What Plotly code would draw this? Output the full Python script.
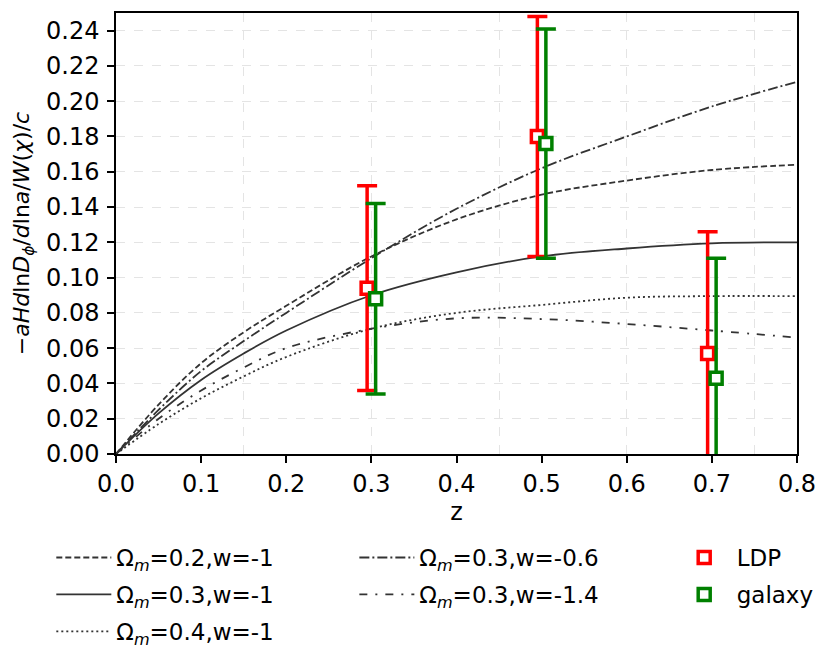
import plotly.graph_objects as go

# redshift grid for the model curves
z = [0, 0.05, 0.1, 0.15, 0.2, 0.3, 0.4, 0.5, 0.6, 0.7, 0.8]

om02_w1 = [0, 0.028, 0.0515, 0.069, 0.084, 0.112, 0.133, 0.147, 0.155, 0.161, 0.164]
om03_w1 = [0, 0.023, 0.042, 0.057, 0.070, 0.090, 0.103, 0.112, 0.1165, 0.1194, 0.120]
om04_w1 = [0, 0.017, 0.0316, 0.044, 0.055, 0.071, 0.080, 0.0845, 0.0886, 0.0895, 0.0895]
om03_w06 = [0, 0.025, 0.047, 0.064, 0.080, 0.111, 0.139, 0.162, 0.180, 0.197, 0.211]
om03_w14 = [0, 0.020, 0.036, 0.049, 0.060, 0.071, 0.0769, 0.0765, 0.0737, 0.070, 0.066]

# measurements
ldp_z = [0.295, 0.495, 0.695]
ldp_val = [0.094, 0.180, 0.057]
ldp_err = [0.058, 0.068, 0.069]

gal_z = [0.305, 0.505, 0.705]
gal_val = [0.088, 0.176, 0.043]
gal_err = [0.054, 0.065, 0.068]

FONT = "DejaVu Sans"
LINE = "#333333"

fig = go.Figure()

def curve(y, name, dash, legend):
    fig.add_trace(go.Scatter(
        x=z, y=y, name=name, mode="lines", line_shape="spline",
        line=dict(color=LINE, width=1.8, dash=dash),
        legend=legend, legendgroup=name))

curve(om02_w1, "Ω<sub><i>m</i></sub>=0.2,w=-1", "6px,3px", "legend")
curve(om03_w1, "Ω<sub><i>m</i></sub>=0.3,w=-1", "solid", "legend")
curve(om04_w1, "Ω<sub><i>m</i></sub>=0.4,w=-1", "2px,3px", "legend")
curve(om03_w06, "Ω<sub><i>m</i></sub>=0.3,w=-0.6", "10px,3px,2px,3px", "legend2")
curve(om03_w14, "Ω<sub><i>m</i></sub>=0.3,w=-1.4", "8px,8px,2px,8px", "legend2")

def points(x, y, err, color, name):
    fig.add_trace(go.Scatter(
        x=x, y=y, name=name, mode="markers", legend="legend3", legendgroup=name,
        marker=dict(symbol="square", size=12, color="white",
                    line=dict(color=color, width=3.5)),
        error_y=dict(type="data", array=err, color=color,
                     thickness=3.5, width=10)))

points(ldp_z, ldp_val, ldp_err, "#ff0000", "LDP")
points(gal_z, gal_val, gal_err, "#008000", "galaxy")

# invisible trace so the secondary x axis (vertical grid every 0.15) is drawn
fig.add_trace(go.Scatter(x=z, y=om03_w1, xaxis="x2", mode="lines",
                         line=dict(width=0), opacity=0, showlegend=False,
                         hoverinfo="skip"))

leg = dict(font=dict(family=FONT, size=23, color="black"), bgcolor="rgba(0,0,0,0)",
           xanchor="left", yanchor="top", y=-0.186, itemwidth=55,
           tracegroupgap=4)

fig.update_layout(
    width=830, height=649,
    margin=dict(l=116, r=33, t=13, b=195, autoexpand=False),
    plot_bgcolor="white", paper_bgcolor="white",
    font=dict(family=FONT, size=24, color="black"),
    legend=dict(leg, x=-0.095),
    legend2=dict(leg, x=0.350),
    legend3=dict(leg, x=0.816),
    xaxis=dict(range=[0, 0.8], dtick=0.1, tickformat=".1f",
               showgrid=False, zeroline=False, automargin=False,
               showline=True, mirror=True, linecolor="black", linewidth=1.5,
               ticks="outside", ticklen=7, tickwidth=1.5, tickcolor="black",
               tickfont=dict(size=24),
               title=dict(text="z", standoff=4, font=dict(size=24))),
    xaxis2=dict(range=[0, 0.8], overlaying="x", dtick=0.15, tick0=0,
                showgrid=True, gridcolor="#e4e4e4", griddash="dash", gridwidth=1,
                showticklabels=False, ticks="", zeroline=False, showline=False,
                automargin=False),
    yaxis=dict(range=[0, 0.25], dtick=0.02, tickformat=".2f",
               showgrid=True, gridcolor="#e4e4e4", griddash="dash", gridwidth=1,
               zeroline=False, automargin=False,
               showline=True, mirror=True, linecolor="black", linewidth=1.5,
               ticks="outside", ticklen=7, tickwidth=1.5, tickcolor="black",
               ticklabelstandoff=3, tickfont=dict(size=24),
               title=dict(text="−<i>aHd</i>ln<i>D</i><sub><i>ϕ</i></sub>/<i>d</i>ln<i>a</i>/<i>W</i>(<i>χ</i>)/<i>c</i>",
                          standoff=10, font=dict(size=22))),
)

# remove the browser's default page margin so the figure sits at the window corner
fig.write_html("out.html", config={"displayModeBar": False},
               post_script="document.body.style.margin='0';")
